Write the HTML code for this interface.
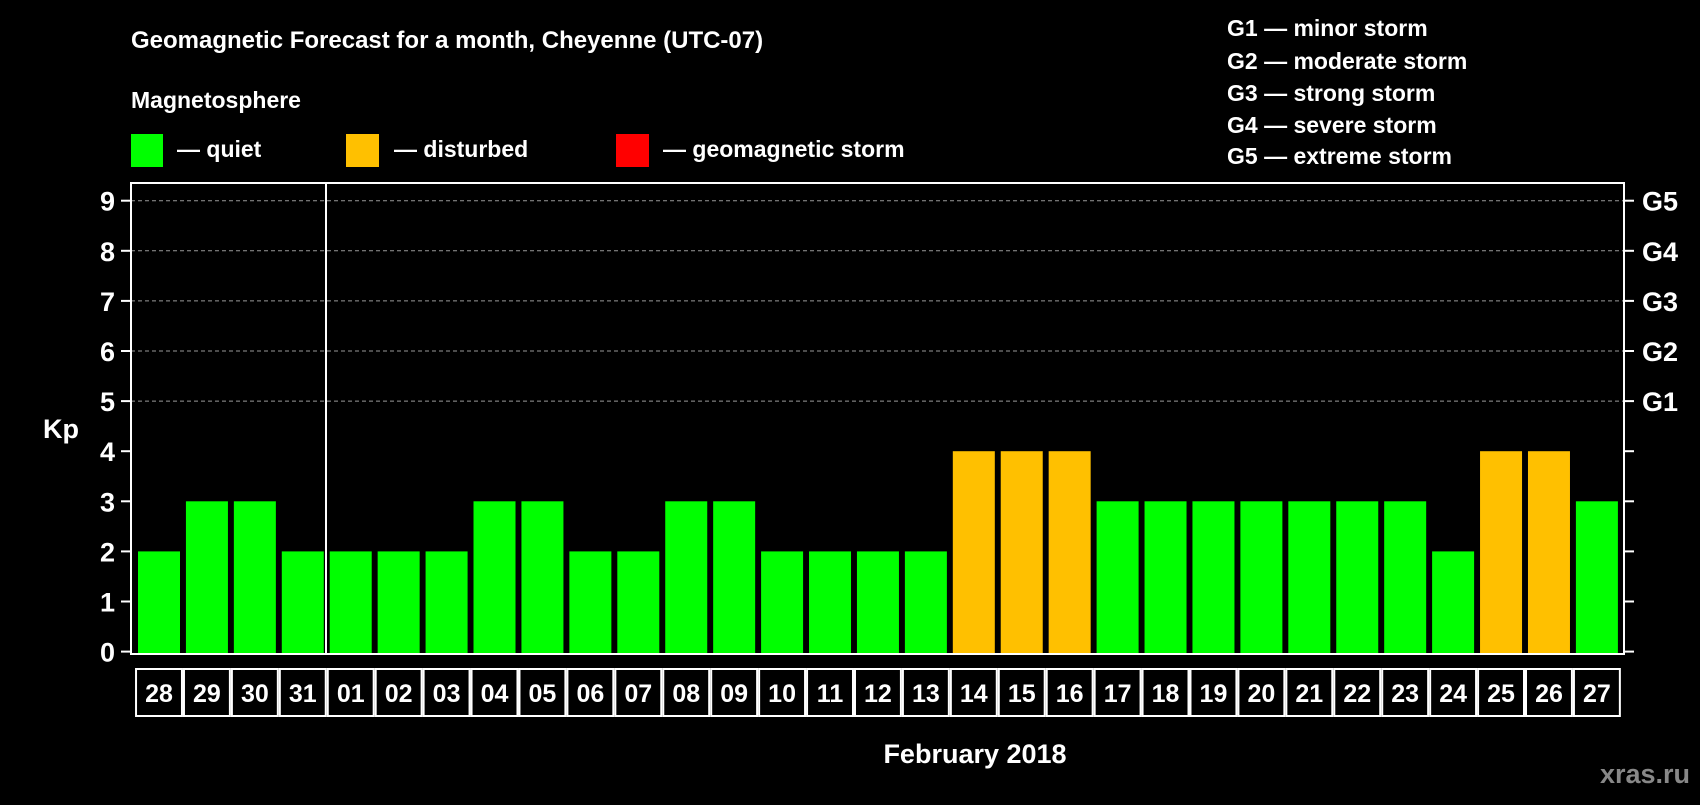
<!DOCTYPE html>
<html><head><meta charset="utf-8"><style>
body{margin:0;background:#000;width:1700px;height:800px;overflow:hidden}
svg text{font-family:"Liberation Sans",Arial,sans-serif;font-weight:bold;fill:#fff}
</style></head><body>
<svg id="chart" width="1700" height="800" viewBox="0 0 1700 800" xmlns="http://www.w3.org/2000/svg">
<rect width="1700" height="800" fill="#000"/>
<text x="131" y="48" font-size="24">Geomagnetic Forecast for a month, Cheyenne (UTC-07)</text>
<text x="131" y="108" font-size="23">Magnetosphere</text>
<rect x="131" y="134" width="32" height="33" fill="#00ff00"/>
<text x="177" y="157" font-size="23">— quiet</text>
<rect x="346" y="134" width="33" height="33" fill="#ffc000"/>
<text x="394" y="157" font-size="23">— disturbed</text>
<rect x="616" y="134" width="33" height="33" fill="#ff0000"/>
<text x="663" y="157" font-size="23">— geomagnetic storm</text>
<g font-size="23">
<text x="1227" y="36">G1 — minor storm</text>
<text x="1227" y="69">G2 — moderate storm</text>
<text x="1227" y="101">G3 — strong storm</text>
<text x="1227" y="133">G4 — severe storm</text>
<text x="1227" y="164">G5 — extreme storm</text>
</g>
<g id="plot"></g>
<text x="43" y="438" font-size="27">Kp</text>
<text x="975" y="763" font-size="27" text-anchor="middle">February 2018</text>
<text x="1690" y="783" font-size="27" text-anchor="end" style="fill:#888">xras.ru</text>
</svg>
<script>
const categories=["28","29","30","31","01","02","03","04","05","06","07","08","09","10","11","12","13","14","15","16","17","18","19","20","21","22","23","24","25","26","27"];
const kpValues=[2,3,3,2,2,2,2,3,3,2,2,3,3,2,2,2,2,4,4,4,3,3,3,3,3,3,3,2,4,4,3];
const yTicks=[0,1,2,3,4,5,6,7,8,9];
const gLabels=["G1","G2","G3","G4","G5"];
const NS="http://www.w3.org/2000/svg";
const g=document.getElementById('plot');
const L=131,R=1624,T=183,B=654,x0=138,pitch=47.93,bw=42;
function y(v){return 651.6-v*50.1;}
function xb(i){return x0+i*pitch;}
function mk(t,a){const e=document.createElementNS(NS,t);for(const k in a)e.setAttribute(k,a[k]);g.appendChild(e);return e;}
yTicks.forEach(v=>{
 if(v>=5){const l=mk('line',{x1:L,x2:R,y1:y(v),y2:y(v),stroke:'#999','stroke-dasharray':'4,3','stroke-width':1});
 
 }
 const t1=mk('line',{x1:L-10,x2:L,y1:y(v),y2:y(v),stroke:'#fff','stroke-width':2});
 
 
 const t2=mk('line',{x1:R,x2:R+10,y1:y(v),y2:y(v),stroke:'#fff','stroke-width':2});
 
 
 const tx=mk('text',{x:115,y:y(v)+10,'font-size':27,'text-anchor':'end'});tx.textContent=v;
 
 
});
gLabels.forEach((s,i)=>{
 const tx=mk('text',{x:1642,y:y(5+i)+10,'font-size':27});tx.textContent=s;
 
 
});
kpValues.forEach((v,i)=>{
 const c=v>=5?'#ff0000':(v>=4?'#ffc000':'#00ff00');
 const r=mk('rect',{x:xb(i),y:y(v),width:bw,height:B-y(v),fill:c});
 
 
});
const fr=mk('rect',{x:L,y:T,width:R-L,height:B-T,fill:'none',stroke:'#fff','stroke-width':2});


const sep=mk('line',{x1:326,x2:326,y1:T,y2:B,stroke:'#fff','stroke-width':2});


categories.forEach((c,i)=>{
 const cx=xb(i)+bw/2;
 const r=mk('rect',{x:cx-pitch/2+1,y:669,width:pitch-2,height:47,fill:'none',stroke:'#fff','stroke-width':2});
 
 
 const t=mk('text',{x:cx,y:702,'font-size':25,'text-anchor':'middle'});t.textContent=c;
 
 
});
</script>
</body></html>
